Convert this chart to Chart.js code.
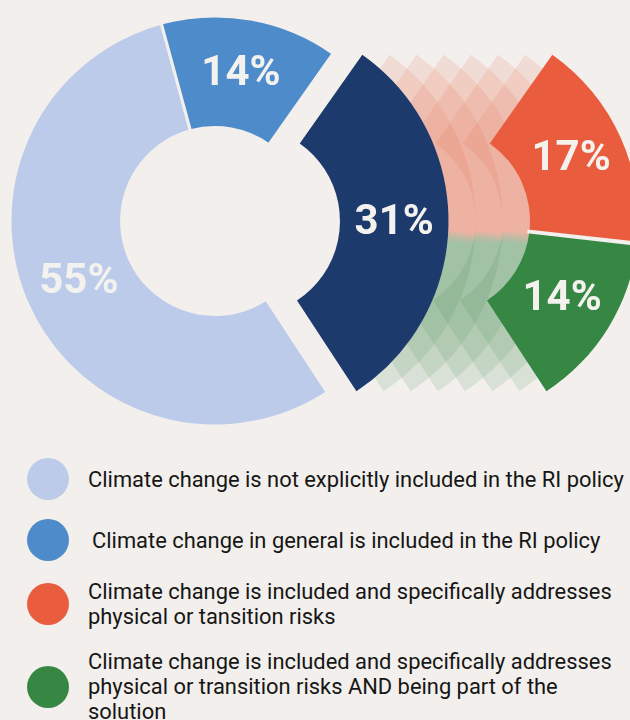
<!DOCTYPE html>
<html>
<head>
<meta charset="utf-8">
<script src="https://cdn.jsdelivr.net/npm/chart.js@4.4.1/dist/chart.umd.min.js"></script>
<style>
  body {
    margin: 0;
    width: 630px;
    height: 720px;
    overflow: hidden;
    position: relative;
    background: #f2efec;
    font-family: Roboto, "Noto Sans", sans-serif;
  }
  #chart-wrap { position: absolute; left: 0; top: 0; width: 630px; height: 442px; }
  #legend { position: absolute; left: 27px; top: 458px; margin: 0; padding: 0; list-style: none; }
  #legend li { display: flex; align-items: center; min-height: 42px; font-size: 21.9px; line-height: 25px; color: #161616; white-space: nowrap; }
  #legend li:nth-child(2) { margin-top: 19px; }
  #legend li:nth-child(3) { margin-top: 18px; }
  #legend li:nth-child(4) { margin-top: 20px; }
  #legend li:nth-child(2) .txt { padding-left: 4px; }
  #legend .dot { width: 42px; height: 42px; border-radius: 50%; flex: none; margin-right: 19px; }
</style>
</head>
<body>
<div id="chart-wrap"><canvas id="policy-chart"></canvas></div>
<ul id="legend"></ul>

<script>
const categories = [
  ['Climate change is not explicitly included in the RI policy'],
  ['Climate change in general is included in the RI policy'],
  ['Climate change is included and specifically addresses', 'physical or tansition risks'],
  ['Climate change is included and specifically addresses', 'physical or transition risks AND being part of the', 'solution'],
];
const shares = [55, 14, 17, 14];
const colors = ['#bccbea', '#4e8bca', '#e95d3e', '#368744'];

// slices that are pulled out of the ring, shown together first and then split
const breakout = [2, 3];
const breakoutColor = '#1c3a6b';

const BG = '#f2efec';
const GAP = 3;
const PULL = 30;       // how far the combined slice moves out
const SPLIT = 220;     // where the split copy ends up
const TRAIL = 7;       // steps between the two, drawn as faded ghosts
const LABEL_FONT = 'bold 42px Roboto';
const LABEL_COLOR = '#f4f2ef';

const pulledShare = breakout.reduce((s, i) => s + shares[i], 0);

const rgba = (hex, a) => {
  const n = parseInt(hex.slice(1), 16);
  return `rgba(${n >> 16},${(n >> 8) & 255},${n & 255},${a})`;
};

const ring = (ctx, x, y, r0, r1, a0, a1) => {
  ctx.beginPath();
  ctx.arc(x, y, r1, a0, a1);
  ctx.arc(x, y, r0, a1, a0, true);
  ctx.closePath();
};

const label = (ctx, text, x, y) => {
  ctx.font = LABEL_FONT;
  ctx.fillStyle = LABEL_COLOR;
  ctx.textAlign = 'center';
  ctx.textBaseline = 'middle';
  ctx.fillText(text, x, y);
};

const breakoutPlugin = {
  id: 'breakout',
  beforeDatasetsDraw(chart) {
    const meta = chart.getDatasetMeta(0);
    breakout.forEach((i) => { meta.data[i].hidden = true; });
  },
  afterDatasetsDraw(chart) {
    const { ctx } = chart;
    const meta = chart.getDatasetMeta(0);
    const fills = chart.data.datasets[0].backgroundColor;
    const parts = breakout.map((i) => meta.data[i]);
    const first = parts[0];
    const last = parts[parts.length - 1];
    const { x, y } = first;
    const r0 = first.innerRadius + GAP / 2;
    const r1 = first.outerRadius - GAP / 2;
    const step = (SPLIT - PULL) / TRAIL;

    ctx.save();

    // ghost copies sliding from the combined slice to the split one
    for (let k = 1; k < TRAIL; k++) {
      parts.forEach((el, j) => {
        ring(ctx, x + PULL + k * step, y, r0, r1, el.startAngle, el.endAngle);
        ctx.fillStyle = rgba(fills[breakout[j]], 0.13);
        ctx.fill();
      });
    }

    // combined slice
    ring(ctx, x + PULL, y, r0, r1, first.startAngle, last.endAngle);
    ctx.fillStyle = breakoutColor;
    ctx.fill();

    // split slice
    parts.forEach((el, j) => {
      ring(ctx, x + SPLIT, y, r0, r1, el.startAngle, el.endAngle);
      ctx.fillStyle = fills[breakout[j]];
      ctx.fill();
    });
    parts.slice(1).forEach((el) => {
      const a = el.startAngle;
      ctx.beginPath();
      ctx.moveTo(x + SPLIT + Math.cos(a) * (r0 - 2), y + Math.sin(a) * (r0 - 2));
      ctx.lineTo(x + SPLIT + Math.cos(a) * (r1 + 2), y + Math.sin(a) * (r1 + 2));
      ctx.strokeStyle = BG;
      ctx.lineWidth = GAP + 1;
      ctx.stroke();
    });

    // value labels
    meta.data.forEach((el, i) => {
      if (breakout.includes(i)) return;
      const p = el.getCenterPoint();
      label(ctx, `${shares[i]}%`, p.x, p.y);
    });
    const mid = (first.startAngle + last.endAngle) / 2;
    const rm = (r0 + r1) / 2;
    label(ctx, `${pulledShare}%`, x + PULL + Math.cos(mid) * rm, y + Math.sin(mid) * rm);
    parts.forEach((el, j) => {
      const p = el.getCenterPoint();
      label(ctx, `${shares[breakout[j]]}%`, p.x + SPLIT, p.y);
    });

    ctx.restore();
  },
};

const renderLegend = (chart) => {
  const items = chart.options.plugins.legend.labels.generateLabels(chart);
  document.getElementById('legend').innerHTML = items
    .map(
      (it) => `
      <li>
        <span class="dot" style="background:${it.fillStyle}"></span>
        <span class="txt">${[].concat(it.text).join('<br>')}</span>
      </li>`
    )
    .join('');
};

const drawChart = () => {
  const chart = new Chart(document.getElementById('policy-chart'), {
    type: 'doughnut',
    data: {
      labels: categories,
      datasets: [{
        data: shares,
        backgroundColor: colors,
        borderColor: BG,
        borderWidth: GAP,
      }],
    },
    options: {
      responsive: true,
      maintainAspectRatio: false,
      animation: false,
      events: [],
      radius: 205,
      cutout: '45.6%',
      // centre the pulled-out part on the right-hand side
      rotation: 91 + 1.8 * pulledShare,
      layout: { padding: { right: 200 } },
      plugins: {
        legend: { display: false },
        tooltip: { enabled: false },
      },
    },
    plugins: [breakoutPlugin],
  });
  renderLegend(chart);
};

document.fonts.load(LABEL_FONT).then(drawChart, drawChart);
</script>
</body>
</html>
